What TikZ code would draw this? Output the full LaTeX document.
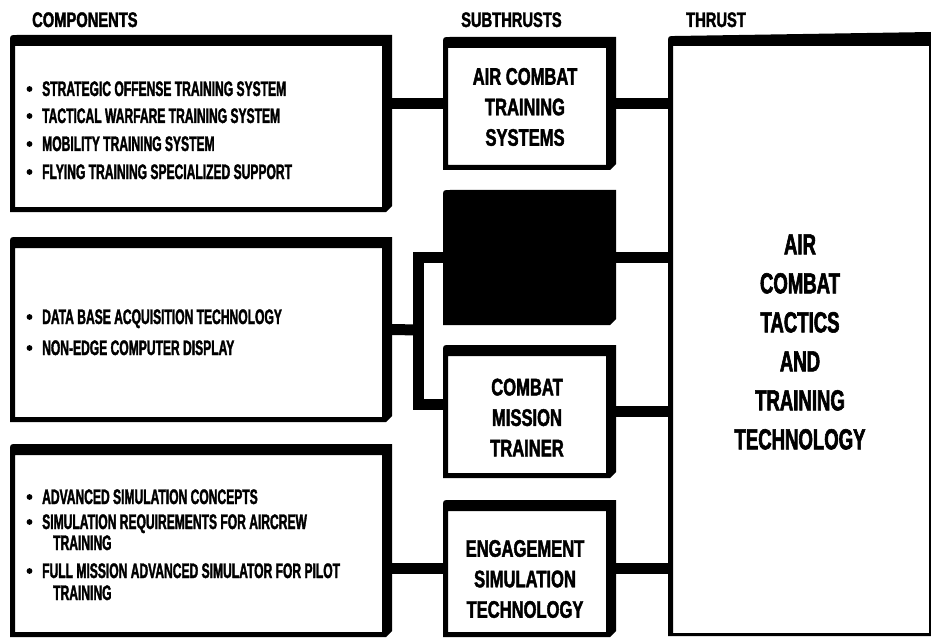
\documentclass[tikz,border=0pt]{standalone}
\usepackage{fontspec}
\setmainfont{Liberation Sans}
% condensed heavy faces for the chart lettering
\newfontfamily\listfont{Liberation Sans}[FakeStretch=0.575, FakeBold=1.6]
\newfontfamily\subfont{Liberation Sans}[FakeStretch=0.69, FakeBold=1.8]
\newfontfamily\thrustfont{Liberation Sans}[FakeStretch=0.64, FakeBold=2]
\newfontfamily\headfont{Liberation Sans}[FakeStretch=0.70, FakeBold=1.8]

% a panel: invisible node of the given extent plus its heavy top/right frame
% #1 name, #2 left, #3 top, #4 right, #5 bottom (y grows downwards)
\newcommand\framepanel[5]{%
  \node[panel, minimum width={(#4-#2)*1pt}, minimum height={(#5-#3)*1pt}]
    (#1) at ({(#2+#4)/2},{(#3+#5)/2}) {};
  \fill[even odd rule]
    (#2,#5) -- (#2,#3+7) .. controls (#2,#3) .. (#2+7,#3) -- (#4,#3)
    -- (#4,#5-6) -- (#4-6,#5) -- cycle
    (#2+5,#3+11) rectangle (#4-10,#5-5);
}

\tikzset{
  panel/.style={rectangle, draw=none, inner sep=0pt, outer sep=0pt},
  link/.style={line width=11pt, line join=miter},
  head/.style={anchor=base west, inner sep=0pt, font=\headfont\bfseries\fontsize{21}{21}\selectfont},
  item/.style={anchor=base west, inner sep=0pt, font=\listfont\bfseries\fontsize{21}{24}\selectfont},
  subtext/.style={align=center, inner sep=0pt, font=\subfont\bfseries\fontsize{24}{30.5}\selectfont},
  thrusttext/.style={align=center, inner sep=0pt, font=\thrustfont\bfseries\fontsize{29}{39}\selectfont},
  dot/.style={fill=black}
}

\begin{document}
\begin{tikzpicture}[x=1pt, y=-1pt]
\fill[white] (0,0) rectangle (931,639);
\useasboundingbox (0,0) rectangle (931,639);

% column headings
\node[head] (hcomp) at (32,27) {COMPONENTS};
\node[head] (hsub) at (461,27) {SUBTHRUSTS};
\node[head] (hthr) at (686,27) {THRUST};

% component panels
\framepanel{c1}{10}{35}{392}{212}
\framepanel{c2}{10}{237}{392}{422}
\framepanel{c3}{10}{444}{392}{637}

% subthrust panels
\framepanel{s1}{443}{37}{616}{170}
\node[panel, minimum width=173pt, minimum height=135pt] (s2) at (529.5,257.5) {};
\fill (443,325) -- (443,197) .. controls (443,190) .. (450,190) -- (616,190)
  -- (616,319) -- (610,325) -- cycle;
\framepanel{s3}{443}{345}{616}{478}
\framepanel{s4}{443}{500}{616}{637}

% thrust panel, light right and bottom edges
\node[panel, minimum width=261pt, minimum height=603pt] (t) at (798.5,334.5) {};
\fill[even odd rule]
  (668,636) -- (668,43) .. controls (668,36) .. (675,36) -- (931,32)
  -- (931,636) -- cycle
  (673,46) rectangle (929,633);

% connectors
\coordinate (busmid) at (418,330);
\coordinate (busbot) at (418,404);
\draw[link] (c1.east |- s1.west) -- (s1.west);
\draw[link] (s1.east) -- (t.west |- s1.east);
\draw[link] (c2.east) -- (busmid);
\draw[link] (s2.west) -| (busbot) -- (s3.west |- busbot);
\draw[link] (s2.east) -- (t.west |- s2.east);
\draw[link] (s3.east) -- (t.west |- s3.east);
\draw[link] (c3.east |- s4.west) -- (s4.west);
\draw[link] (s4.east) -- (t.west |- s4.east);

% component lists
\foreach \y in {89,116,144,172,317,348,497,522,571}
  \fill[dot] (29.5,\y) circle (2.9);
\node[item] (c1a) at (42,96) {STRATEGIC OFFENSE TRAINING SYSTEM};
\node[item] (c1b) at (42,123) {TACTICAL WARFARE TRAINING SYSTEM};
\node[item] (c1c) at (42,151) {MOBILITY TRAINING SYSTEM};
\node[item] (c1d) at (42,179) {FLYING TRAINING SPECIALIZED SUPPORT};
\node[item] (c2a) at (42,324) {DATA BASE ACQUISITION TECHNOLOGY};
\node[item] (c2b) at (42,355) {NON-EDGE COMPUTER DISPLAY};
\node[item] (c3a) at (42,504) {ADVANCED SIMULATION CONCEPTS};
\node[item] (c3b) at (42,529) {SIMULATION REQUIREMENTS FOR AIRCREW};
\node[item] (c3c) at (53,550) {TRAINING};
\node[item] (c3d) at (42,578) {FULL MISSION ADVANCED SIMULATOR FOR PILOT};
\node[item] (c3e) at (53,600) {TRAINING};

% subthrust titles
\node[subtext] (s1t) at (525,107) {AIR COMBAT\\TRAINING\\SYSTEMS};
\node[subtext] (s3t) at (527,417.5) {COMBAT\\MISSION\\TRAINER};
\node[subtext] (s4t) at (525,579) {ENGAGEMENT\\SIMULATION\\TECHNOLOGY};

% thrust title
\node[thrusttext] (tt) at (800,342) {AIR\\COMBAT\\TACTICS\\AND\\TRAINING\\TECHNOLOGY};
\end{tikzpicture}
\end{document}
